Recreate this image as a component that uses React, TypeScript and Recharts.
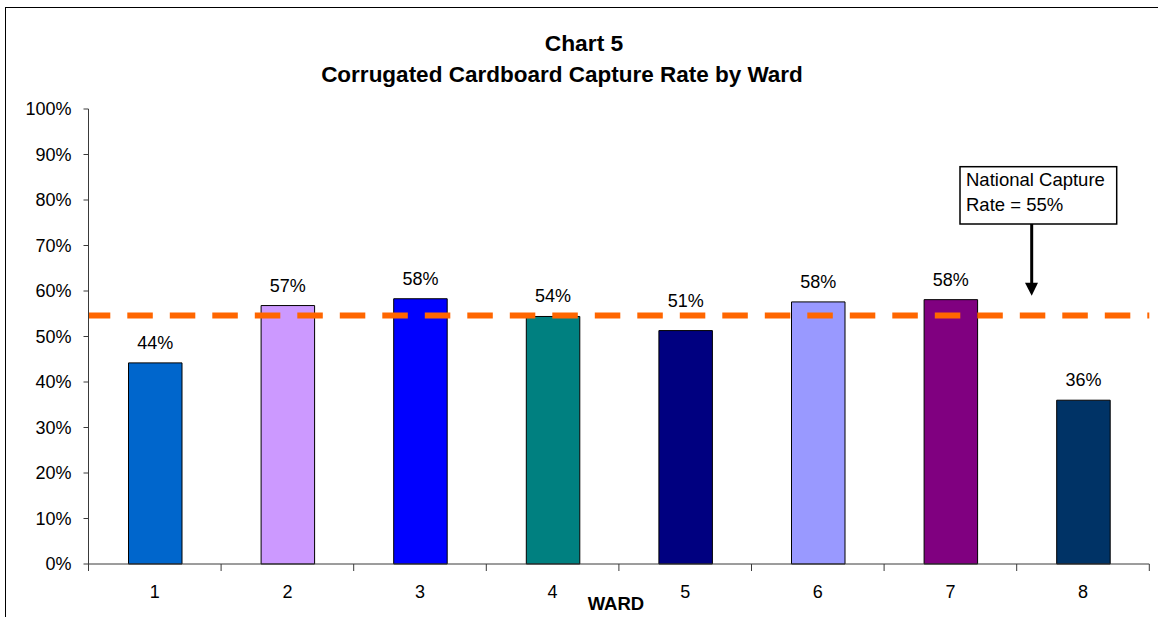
import React from 'react';
import {
  BarChart, Bar, XAxis, YAxis, Cell, LabelList, ReferenceLine, Label
} from 'recharts';

const wards = ['1', '2', '3', '4', '5', '6', '7', '8'];
const captureRates = [0.442, 0.568, 0.583, 0.544, 0.513, 0.576, 0.581, 0.36];
const barColors = ['#0066CC', '#CC99FF', '#0000FF', '#008080', '#000080', '#9999FF', '#800080', '#003366'];
const yTicks = [0, 0.1, 0.2, 0.3, 0.4, 0.5, 0.6, 0.7, 0.8, 0.9, 1];
const nationalRate = 0.546;
const titleLines = ['Chart 5', 'Corrugated Cardboard Capture Rate by Ward'];
const calloutLines = ['National Capture', 'Rate = 55%'];

const data = wards.map((ward, i) => ({ ward, rate: captureRates[i] }));

const FONT = '"Liberation Sans", Arial, sans-serif';
const AXIS = '#3a3a3a';
const pct = (v: number) => `${Math.round(v * 100)}%`;

// ward 5's label was nudged up in the original so it clears the dashed line
const LABEL_GAP = 14;
const LIFTED_LABEL = 4;

const WardTick = (props: any) => {
  const { x, y, payload, index, visibleTicksCount } = props;
  const half = payload?.offset ?? 0;
  return (
    <g>
      <line x1={x - half} y1={y} x2={x - half} y2={y + 7} stroke={AXIS} />
      {index === visibleTicksCount - 1 && (
        <line x1={x + half} y1={y} x2={x + half} y2={y + 7} stroke={AXIS} />
      )}
      <text x={x} y={y + 34} textAnchor="middle" fontSize={18} fill="#000" fontFamily={FONT}>
        {payload.value}
      </text>
    </g>
  );
};

const BarValueLabel = (props: any) => {
  const { x, y, width, value, index } = props;
  const gap = index === LIFTED_LABEL ? LABEL_GAP + 10 : LABEL_GAP;
  return (
    <text x={Number(x) + Number(width) / 2} y={Number(y) - gap} textAnchor="middle" fontSize={18} fill="#000" fontFamily={FONT}>
      {pct(Number(value))}
    </text>
  );
};

const App: React.FC = () => {
  return (
    <div style={{ position: 'absolute', left: 0, top: 0, width: 1158, height: 617, overflow: 'hidden', background: '#fff', fontFamily: FONT }}>
      <div style={{ position: 'absolute', left: 5, top: 7, width: 1300, height: 800, borderLeft: '1.5px solid #000', borderTop: '1.5px solid #000' }} />

      <div style={{ position: 'absolute', left: 0, top: 0 }}>
        <BarChart width={1158} height={617} data={data} margin={{ top: 109, right: 8.7, bottom: 0, left: 0 }}>
          <XAxis
            dataKey="ward"
            height={53}
            axisLine={{ stroke: AXIS }}
            tickLine={false}
            tickSize={0}
            tickMargin={0}
            interval={0}
            tick={<WardTick />}
          >
            <Label
              value="WARD"
              position="insideBottom"
              offset={7}
              dx={-3}
              style={{ fontSize: 18.5, fontWeight: 'bold', fill: '#000', fontFamily: FONT }}
            />
          </XAxis>
          <YAxis
            domain={[0, 1]}
            ticks={yTicks}
            tickFormatter={pct}
            width={88.5}
            tickSize={5}
            tickMargin={12}
            axisLine={{ stroke: AXIS }}
            tickLine={{ stroke: AXIS }}
            tick={{ fontSize: 18, fill: '#000', fontFamily: FONT }}
          />
          <Bar dataKey="rate" barSize={53.5} stroke="#000" strokeWidth={1} isAnimationActive={false}>
            {data.map((d, i) => (
              <Cell key={d.ward} fill={barColors[i]} />
            ))}
            <LabelList dataKey="rate" content={<BarValueLabel />} />
          </Bar>
          <ReferenceLine
            y={nationalRate}
            stroke="#FF6600"
            strokeWidth={6}
            strokeDasharray="25.5 17"
            strokeDashoffset={3.7}
          />
        </BarChart>
      </div>

      <svg width={1158} height={617} style={{ position: 'absolute', left: 0, top: 0, pointerEvents: 'none' }}>
        <text x={584} y={50.7} textAnchor="middle" fontSize={22.8} fontWeight="bold" fill="#000" fontFamily={FONT}>
          {titleLines[0]}
        </text>
        <text x={562} y={81.7} textAnchor="middle" fontSize={22.5} fontWeight="bold" fill="#000" fontFamily={FONT}>
          {titleLines[1]}
        </text>

        <rect x={960} y={166.7} width={156.7} height={57.3} fill="#fff" stroke="#000" strokeWidth={1.5} />
        {calloutLines.map((line, i) => (
          <text key={line} x={966} y={186 + i * 25} fontSize={18.5} fill="#000" fontFamily={FONT}>
            {line}
          </text>
        ))}
        <line x1={1031.7} y1={224} x2={1031.7} y2={284} stroke="#000" strokeWidth={3} />
        <polygon points="1025,282.7 1038,282.7 1031.7,295.7" fill="#000" />
      </svg>
    </div>
  );
};

export default App;
